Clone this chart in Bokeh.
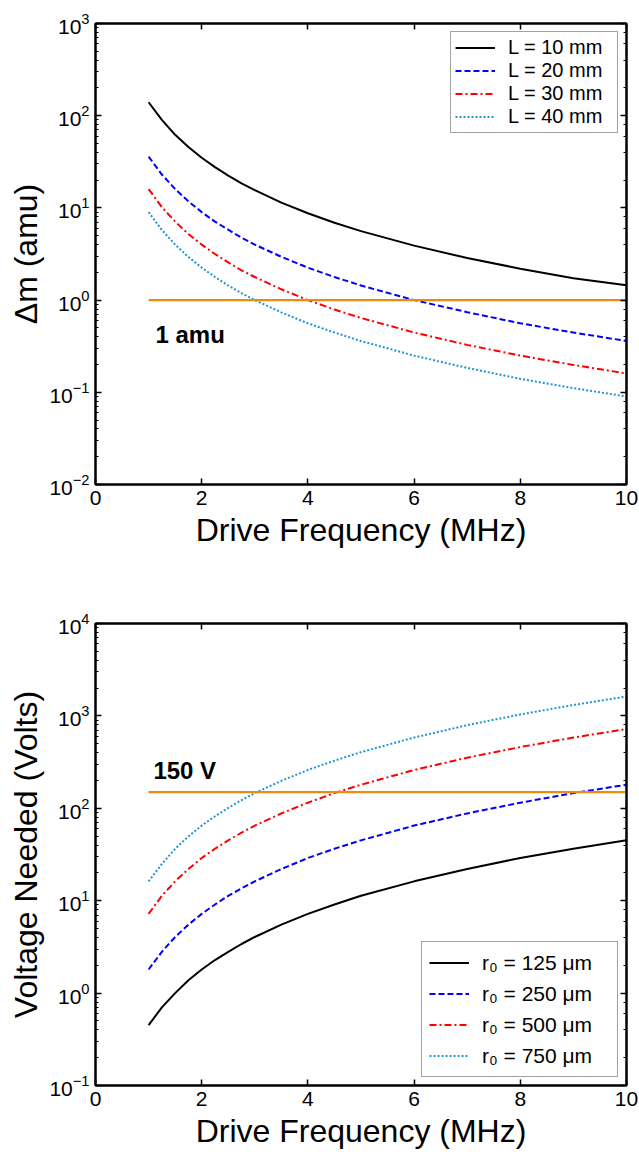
from bokeh.plotting import figure
from bokeh.models import (LinearAxis, LogAxis, Range1d, Label, FixedTicker, LogTicker,
                          CustomJSTickFormatter)
from bokeh.layouts import column
from bokeh.embed import file_html
from bokeh.resources import INLINE

# ---------------- data ----------------
freq = [1, 1.25, 1.5, 1.75, 2, 2.25, 2.5, 2.75, 3, 3.5, 4, 4.5, 5, 6, 7, 8, 9, 10]

dm_L10 = [140, 90, 62, 45.7, 35, 27.7, 22.4, 18.5, 15.6, 11.4, 8.75, 6.9, 5.6, 3.9, 2.86, 2.19, 1.73, 1.45]
dm_L20 = [36, 23, 16, 11.8, 9.0, 7.1, 5.8, 4.75, 4.0, 2.95, 2.25, 1.78, 1.44, 1.0, 0.74, 0.56, 0.445, 0.36]
dm_L30 = [16, 10.2, 7.1, 5.2, 4.0, 3.16, 2.56, 2.1, 1.78, 1.31, 1.0, 0.79, 0.64, 0.445, 0.327, 0.25, 0.198, 0.16]
dm_L40 = [9, 5.76, 4.0, 2.94, 2.25, 1.78, 1.44, 1.19, 1.0, 0.735, 0.56, 0.445, 0.36, 0.25, 0.184, 0.14, 0.111, 0.09]

v_r125 = [0.45, 0.70, 1.0, 1.38, 1.8, 2.28, 2.8, 3.4, 4.05, 5.5, 7.2, 9.1, 11.3, 16.2, 22, 29, 36.5, 45]
v_r250 = [1.8, 2.8, 4.05, 5.5, 7.2, 9.1, 11.3, 13.6, 16.2, 22, 29, 36.5, 45, 65, 88, 115, 146, 180]
v_r500 = [7.2, 11.3, 16.2, 22, 29, 36.5, 45, 54.5, 65, 88, 115, 146, 180, 260, 353, 460, 583, 720]
v_r750 = [16.2, 25, 36.5, 49.6, 65, 82, 101, 122.5, 146, 198, 260, 328, 405, 583, 794, 1037, 1312, 1620]

thr_x = [1, 10]
dm_threshold = [1, 1]
v_threshold = [150, 150]

labels_L = ["L = 10 mm", "L = 20 mm", "L = 30 mm", "L = 40 mm"]
labels_r = ["r\u2080 = 125 \u03bcm", "r\u2080 = 250 \u03bcm", "r\u2080 = 500 \u03bcm", "r\u2080 = 750 \u03bcm"]
x_ticks = [0, 2, 4, 6, 8, 10]

FONT = "Liberation Sans"
COLORS = ["black", "#0000ff", "#ff0000", "#1f95d2"]
DASHES = ["solid", "6 3", "7 3 2 3", "2 2"]
ORANGE = "#e98e0c"


def style_axis(ax, show_labels=True):
    ax.axis_line_width = 2
    ax.axis_line_color = "black"
    ax.major_tick_in = 6
    ax.major_tick_out = 0
    ax.minor_tick_in = 3
    ax.minor_tick_out = 0
    ax.major_tick_line_width = 1.5
    ax.major_tick_line_color = "black"
    ax.minor_tick_line_color = "black"
    ax.major_label_text_font = FONT
    ax.major_label_text_color = "black"
    ax.major_label_text_font_size = "21px"
    if show_labels:
        ax.major_label_standoff = 6
    else:
        ax.formatter = CustomJSTickFormatter(code="return ''")
        ax.major_label_standoff = 0
    ax.axis_label_text_font = FONT
    ax.axis_label_text_font_size = "32px"
    ax.axis_label_text_font_style = "normal"
    ax.axis_label_text_color = "black"
    ax.axis_label_standoff = 4


def make_fig(height, top, bottom, y_start, y_end, ylabel):
    p = figure(width=639, height=height, x_range=Range1d(0, 10),
               y_range=Range1d(y_start, y_end), y_axis_type="log",
               output_backend="svg", toolbar_location=None,
               min_border_left=95, min_border_right=13,
               min_border_top=top, min_border_bottom=bottom)
    p.grid.visible = False
    p.outline_line_color = "black"
    p.outline_line_width = 2
    p.background_fill_color = "white"
    p.border_fill_color = "white"

    xa = p.xaxis[0]
    xa.ticker = FixedTicker(ticks=x_ticks)
    style_axis(xa)
    xa.minor_tick_line_color = None
    xa.axis_label = "Drive Frequency (MHz)"

    ya = p.yaxis[0]
    style_axis(ya)
    ya.axis_label_standoff = 2
    ya.axis_label = ylabel

    top_ax = LinearAxis(ticker=FixedTicker(ticks=x_ticks))
    style_axis(top_ax, show_labels=False)
    top_ax.minor_tick_line_color = None
    p.add_layout(top_ax, "above")

    right_ax = LogAxis(ticker=LogTicker())
    style_axis(right_ax, show_labels=False)
    p.add_layout(right_ax, "right")
    return p


def style_legend(p, location, padding, glyph_w, glyph_h, spacing, label_w, font_size):
    lg = p.legend[0]
    lg.location = location
    lg.margin = 8
    lg.padding = padding
    lg.spacing = spacing
    lg.glyph_width = glyph_w
    lg.glyph_height = glyph_h
    lg.label_height = glyph_h
    lg.label_width = label_w
    lg.label_standoff = 13
    lg.label_text_font = FONT
    lg.label_text_font_size = font_size
    lg.label_text_color = "black"
    lg.border_line_color = "#444444"
    lg.border_line_width = 1.5
    lg.background_fill_color = "white"
    lg.background_fill_alpha = 1


# ---------------- top chart ----------------
p1 = make_fig(23 + 461 + 70, 23, 70, 1e-2, 1e3, "\u0394m (amu)")
for ys, c, d, lab in zip([dm_L10, dm_L20, dm_L30, dm_L40], COLORS, DASHES, labels_L):
    p1.line(freq, ys, line_color=c, line_dash=d, line_width=2, legend_label=lab)
p1.line(thr_x, dm_threshold, line_color=ORANGE, line_width=2.2)
p1.add_layout(Label(x=1.13, y=0.42, text="1 amu", text_font=FONT,
                    text_font_style="bold", text_font_size="24px",
                    text_color="black", text_baseline="alphabetic"))
style_legend(p1, "top_right", 4, 40, 21, 0, 105, "20px")

# ---------------- bottom chart ----------------
p2 = make_fig(69 + 462 + 69, 69, 69, 1e-1, 1e4, "Voltage Needed (Volts)")
for ys, c, d, lab in zip([v_r125, v_r250, v_r500, v_r750], COLORS, DASHES, labels_r):
    p2.line(freq, ys, line_color=c, line_dash=d, line_width=2, legend_label=lab)
p2.line(thr_x, v_threshold, line_color=ORANGE, line_width=2.2)
p2.add_layout(Label(x=1.09, y=256, text="150 V", text_font=FONT,
                    text_font_style="bold", text_font_size="24px",
                    text_color="black", text_baseline="alphabetic"))
style_legend(p2, "bottom_right", 7, 40, 27, 4, 128, "21px")

layout = column(p1, p2, spacing=0)
open("out.html", "w").write(file_html(layout, INLINE))
